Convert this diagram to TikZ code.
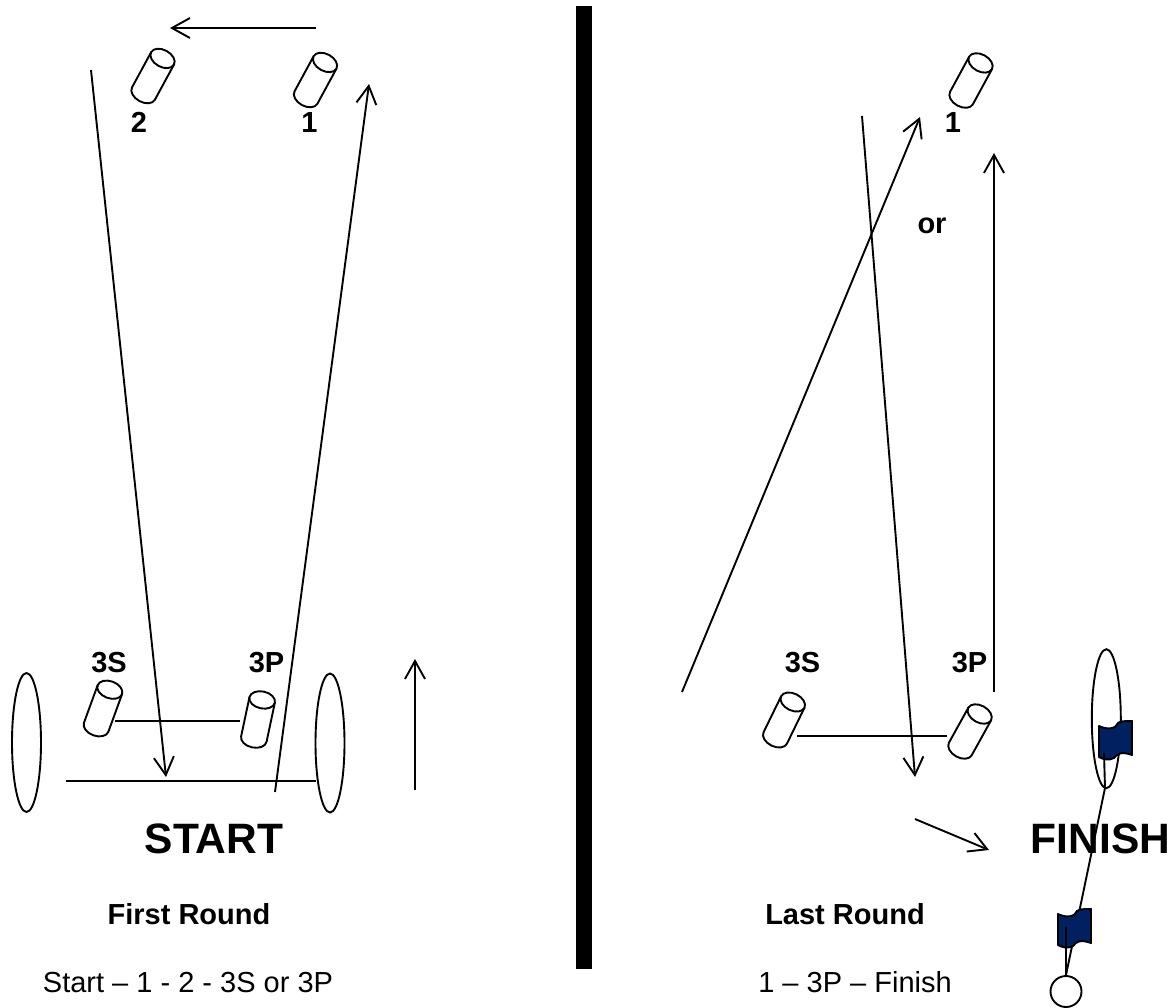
\documentclass[tikz,border=0pt]{standalone}
\usepackage{fontspec}
\setmainfont{Liberation Sans}
\usetikzlibrary{arrows.meta}
\definecolor{flagblue}{HTML}{002060}
\tikzset{
  ln/.style={line width=1.9pt,black},
  arr/.style={ln,-{Straight Barb[length=18pt,width=20pt,line width=1.9pt]}},
  big/.style={inner sep=0pt,anchor=base,font=\bfseries\fontsize{42.5}{42.5}\selectfont},
  lab/.style={inner sep=0pt,anchor=base,font=\bfseries\fontsize{29}{29}\selectfont},
  txt/.style={inner sep=0pt,anchor=base,font=\fontsize{29}{29}\selectfont},
  pics/cyl/.style={code={
    \draw[ln,fill=white,line join=round] (-13,-20) -- (-13,20) arc[start angle=180,delta angle=-180,x radius=13,y radius=8.5] -- (13,-20) -- cycle;
    \draw[ln,fill=white] (0,-20) ellipse[x radius=13,y radius=8.5];
  }},
  pics/flag/.style={code={
    \draw[line width=1.9pt,black,fill=flagblue,line join=round] (0,5) .. controls (8,9) and (17,8) .. (19,2) .. controls (21,0) and (27,0) .. (33,0) -- (33,34) .. controls (22,30) and (18,33) .. (15,37) .. controls (10,40) and (3,38) .. (0,36) -- cycle;
  }},
}
\begin{document}
\begin{tikzpicture}[x=1pt,y=-1pt]
\useasboundingbox (0,0) rectangle (1175,1007);
% thick divider
\fill[black] (576,6) rectangle (592,969);
% cylinders
\pic[rotate=-28.5] at (315.5,80) {cyl};
\pic[rotate=-28.5] at (153,76) {cyl};
\pic[rotate=-20] at (103,708.5) {cyl};
\pic[rotate=-12] at (258,719.5) {cyl};
\pic[rotate=-28.5] at (971,80.5) {cyl};
\pic[rotate=-26] at (784,720) {cyl};
\pic[rotate=-29] at (970,731.5) {cyl};
% ovals
\draw[ln] (26.5,742.5) ellipse[x radius=14.5,y radius=69.5];
\draw[ln] (330,743) ellipse[x radius=14.5,y radius=69.5];
\draw[ln] (1106.3,718.7) ellipse[x radius=14.5,y radius=69.5];
\draw[ln] (1066,991.5) circle[radius=15.5];
% labels
\node[lab] (n2) at (139,132) {2};
\node[lab] (n1) at (309.5,132) {1};
\node[lab] (s3a) at (109,672) {3S};
\node[lab] (p3a) at (266.5,672) {3P};
\node[lab] (n1b) at (953,132) {1};
\node[lab] (orr) at (932,233) {or};
\node[lab] (s3b) at (802.5,672) {3S};
\node[lab] (p3b) at (969.5,672) {3P};
\node[big] (start) at (214,853) {START};
\node[big] (finish) at (1100.5,853) {FINISH};
\node[lab] (first) at (189,924) {First Round};
\node[lab] (last) at (845,924) {Last Round};
\node[txt] (seqa) at (188,992) {Start – 1 - 2 - 3S or 3P};
\node[txt] (seqb) at (855,992) {1 – 3P – Finish};
% coordinates
\coordinate (a1) at (316,28); \coordinate (a2) at (170,28);
\coordinate (b1) at (91,70); \coordinate (b2) at (166,777);
\coordinate (c1) at (275,792); \coordinate (c2) at (369,84);
\coordinate (d1) at (115,721); \coordinate (d2) at (240,721);
\coordinate (e1) at (66,781); \coordinate (e2) at (316,781);
\coordinate (f1) at (415,790); \coordinate (f2) at (415,659);
\coordinate (g1) at (862,116); \coordinate (g2) at (915,777);
\coordinate (h1) at (682,692); \coordinate (h2) at (920,117);
\coordinate (i1) at (994,692); \coordinate (i2) at (994,153);
\coordinate (j1) at (797,736); \coordinate (j2) at (947,736);
\coordinate (k1) at (915,819); \coordinate (k2) at (989,850);
\coordinate (m1) at (1066,975); \coordinate (m2) at (1105,788);
\coordinate (m3) at (1066,927); \coordinate (m4) at (1104,753);
% connectors
\draw[arr] (a1) -- (a2);
\draw[arr] (b1) -- (b2);
\draw[arr] (c1) -- (c2);
\draw[ln] (d1) -- (d2);
\draw[ln] (e1) -- (e2);
\draw[arr] (f1) -- (f2);
\draw[arr] (g1) -- (g2);
\draw[arr] (h1) -- (h2);
\draw[arr] (i1) -- (i2);
\draw[ln] (j1) -- (j2);
\draw[arr] (k1) -- (k2);
% finish posts and flags
\draw[ln] (m1) -- (m2);
\pic at (1099,721) {flag};
\pic at (1058,909) {flag};
\draw[ln] (m3) -- (m1);
\draw[ln] (m4) -- (m2);
\end{tikzpicture}
\end{document}
